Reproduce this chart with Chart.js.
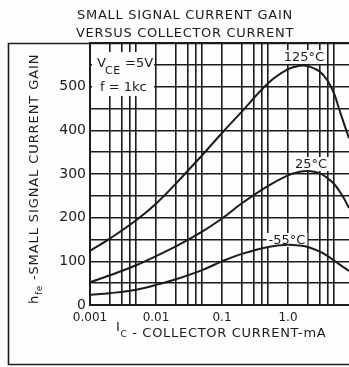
<!DOCTYPE html>
<html>
<head>
<meta charset="utf-8">
<script src="https://cdn.jsdelivr.net/npm/chart.js@4.4.0/dist/chart.umd.min.js"></script>
<style>
  body{margin:0;background:#fdfdfd;}
  #wrap{width:349px;height:367px;position:relative;}
</style>
</head>
<body>
<div id="wrap"><canvas id="gain_chart"></canvas></div>
<script>
//chart data
const current_ma=[0.001,0.002,0.005,0.01,0.02,0.05,0.1,0.2,0.5,1,1.5,2,3,4,5,6,7,8.4];
const gain_125=[124,152,194,232,278,343,394,443,508,540,548,547,535,513,484,447,417,382];
const gain_25=[52,68,91,112,134,168,198,233,273,297,305,307,302,290,277,261,245,222];
const gain_m55=[23,27,35,46,59,80,100,117,133,138,136,133,123,112,102,93,86,78];

//axis stuff
const x_grid_values=[0.001,0.002,0.003,0.004,0.005,0.01,0.02,0.03,0.04,0.05,0.1,0.2,0.3,0.4,0.5,1,2,3,4,5];
const x_label_values=[0.001,0.01,0.1,1];
const x_label_texts=["0.001","0.01","0.1","1.0"];
const y_label_values=[0,100,200,300,400,500];

const ink="#1c1c1c";
const font_name="'DejaVu Sans', sans-serif";

function toPoints(ys){
  return current_ma.map((x,i)=>({x:x,y:ys[i]}));
}

//draws text with letter spacing, returns width
function spaced(ctx,txt,x,y,spacing){
  ctx.letterSpacing=spacing+"px";
  ctx.fillText(txt,x,y);
  let w=ctx.measureText(txt).width;
  ctx.letterSpacing="0px";
  return w;
}

function labelBox(ctx,txt,cx,cy){
  ctx.font="13px "+font_name;
  let w=ctx.measureText(txt).width;
  ctx.fillStyle="#fdfdfd";
  ctx.fillRect(cx-w/2-2,cy-7,w+4,14);
  ctx.fillStyle=ink;
  ctx.textAlign="center";
  ctx.textBaseline="middle";
  ctx.fillText(txt,cx,cy+1);
}

const decor_plugin={
  id:"decor",
  beforeDraw(chart){
    const ctx=chart.ctx;
    ctx.save();
    ctx.fillStyle="#fdfdfd";
    ctx.fillRect(0,0,chart.width,chart.height);
    ctx.restore();
  },
  beforeDatasetsDraw(chart){
    const ctx=chart.ctx;
    ctx.save();
    //V_CE box
    ctx.fillStyle="#fdfdfd";
    ctx.fillRect(92,52,62,44);
    ctx.fillStyle=ink;
    ctx.textAlign="left";
    ctx.textBaseline="alphabetic";
    ctx.font="13px "+font_name;
    ctx.fillText("V",97,67);
    ctx.font="11px "+font_name;
    spaced(ctx,"CE",105,74,0.5);
    ctx.font="13px "+font_name;
    ctx.fillText("=5V",125,67);
    ctx.fillText("f = 1kc",100,91);
    //curve labels
    labelBox(ctx,"125°C",304,57);
    labelBox(ctx,"25°C",311,164);
    labelBox(ctx,"-55°C",287,240);
    ctx.restore();
  },
  afterDraw(chart){
    const ctx=chart.ctx;
    ctx.save();
    //outer frame
    ctx.strokeStyle=ink;
    ctx.lineWidth=1.6;
    ctx.beginPath();
    ctx.moveTo(chart.width+2,43.5);
    ctx.lineTo(8.5,43.5);
    ctx.lineTo(8.5,364.5);
    ctx.lineTo(chart.width+2,364.5);
    ctx.stroke();

    //title
    ctx.fillStyle=ink;
    ctx.textAlign="center";
    ctx.textBaseline="alphabetic";
    ctx.font="13px "+font_name;
    spaced(ctx,"SMALL SIGNAL CURRENT GAIN",185,19,0.7);
    spaced(ctx,"VERSUS COLLECTOR CURRENT",185,37,0.7);

    //x title
    ctx.textAlign="left";
    let x=116;
    ctx.font="13px "+font_name;
    x+=spaced(ctx,"I",x,331,0.7);
    ctx.font="9px "+font_name;
    x+=spaced(ctx,"C",x,337,0.5);
    ctx.font="13px "+font_name;
    spaced(ctx," - COLLECTOR CURRENT-mA",x,337,0.7);

    //y title (rotated)
    ctx.translate(38,304);
    ctx.rotate(-Math.PI/2);
    let p=0;
    ctx.font="13px "+font_name;
    p+=spaced(ctx,"h",p,0,0.9);
    ctx.font="9px "+font_name;
    p+=spaced(ctx,"fe",p,4,0.5);
    ctx.font="13px "+font_name;
    spaced(ctx," -SMALL SIGNAL CURRENT GAIN",p,0,0.9);
    ctx.restore();
  }
};

const ctx=document.getElementById("gain_chart").getContext("2d");

const line_style={fill:false,borderColor:ink,borderWidth:2,pointRadius:0,tension:0.4};

const my_chart=new Chart(ctx,{
  type:"line",
  data:{
    datasets:[
      Object.assign({label:"125°C",data:toPoints(gain_125)},line_style),
      Object.assign({label:"25°C",data:toPoints(gain_25)},line_style),
      Object.assign({label:"-55°C",data:toPoints(gain_m55)},line_style),
    ]
  },
  options:{
    responsive:true,
    maintainAspectRatio:false,
    animation:false,
    layout:{padding:{top:43,left:0,right:0,bottom:0}},
    plugins:{legend:{display:false},tooltip:{enabled:false}},
    scales:{
      x:{
        type:"logarithmic",
        min:0.001,
        max:8.4,
        afterBuildTicks(scale){
          scale.ticks=x_grid_values.map(v=>({value:v}));
        },
        afterFit(scale){ scale.height=62; },
        grid:{color:ink,lineWidth:1.6,drawTicks:false},
        border:{display:true,color:ink,width:2},
        ticks:{
          autoSkip:false,
          maxRotation:0,
          padding:6,
          color:ink,
          font:{family:"DejaVu Sans",size:12},
          callback(value){
            for(let i=0;i<x_label_values.length;i++){
              if(Math.abs(Math.log10(value)-Math.log10(x_label_values[i]))<1e-6) return x_label_texts[i];
            }
            return "";
          }
        }
      },
      y:{
        min:0,
        max:600,
        afterFit(scale){ scale.width=90; },
        grid:{color:ink,lineWidth:1.6,drawTicks:false},
        border:{display:true,color:ink,width:2},
        ticks:{
          stepSize:50,
          padding:4,
          color:ink,
          font:{family:"DejaVu Sans",size:14},
          callback(value){
            return y_label_values.includes(value) ? String(value) : "";
          }
        }
      }
    }
  },
  plugins:[decor_plugin]
});
</script>
</body>
</html>
